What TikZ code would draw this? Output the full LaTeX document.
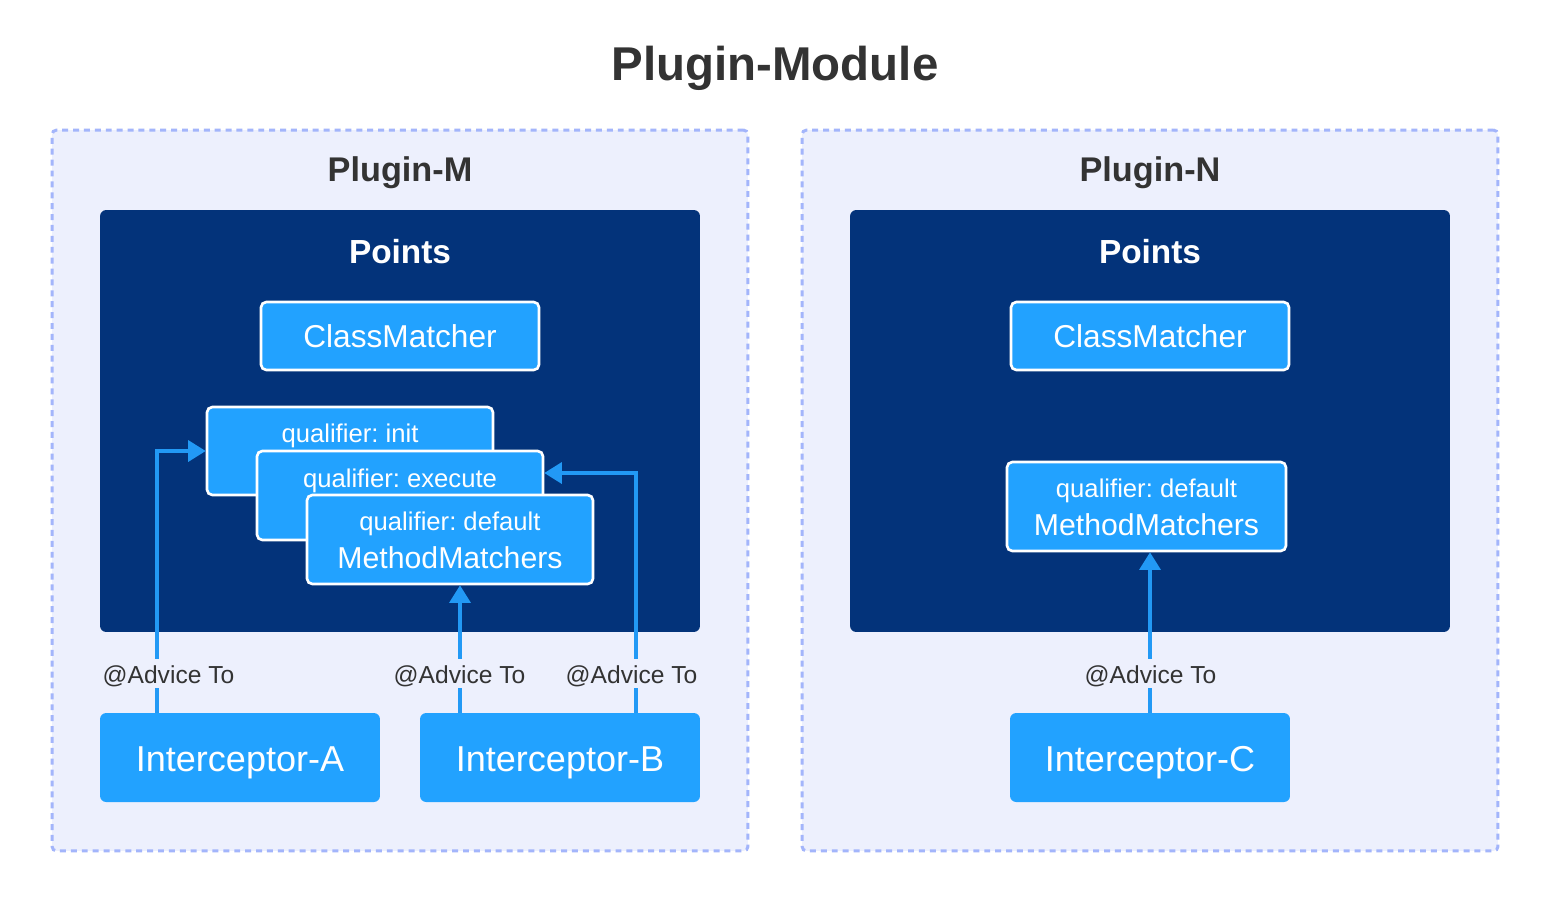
\documentclass[tikz,border=0pt]{standalone}
\usepackage{fontspec}
\setmainfont{Liberation Sans}
\frenchspacing
\usetikzlibrary{arrows.meta}
\definecolor{bgc}{HTML}{EDF0FD}
\definecolor{dashc}{HTML}{A3B5FB}
\definecolor{darkc}{HTML}{03337A}
\definecolor{bluec}{HTML}{22A2FF}
\definecolor{arrc}{HTML}{2299F5}
\definecolor{textc}{HTML}{333333}
\tikzset{
  outer/.style={draw=dashc, fill=bgc, line width=1.7pt, dash pattern=on 3.4pt off 2.8pt, rounded corners=2.5pt, inner sep=0pt},
  ptsbox/.style={fill=darkc, rounded corners=3.5pt, inner sep=0pt},
  mbox/.style={fill=bluec, draw=white, line width=1.5pt, rounded corners=3pt, inner sep=0pt},
  ibox/.style={fill=bluec, rounded corners=3.5pt, inner sep=0pt},
  txt/.style={inner sep=0pt, anchor=base},
  arr/.style={draw=arrc, line width=1.8pt, -{Triangle[length=10pt,width=12pt]}},
  lbl/.style={fill=bgc, text=textc, anchor=base, inner xsep=0pt, inner ysep=2.8pt, text height=11pt, text depth=0pt, font=\fontsize{14}{16}\selectfont},
  qtxt/.style={txt, text=white, font=\fontsize{14.6}{17}\selectfont},
  mtxt/.style={txt, text=white, font=\fontsize{17.2}{20}\selectfont},
  ctxt/.style={txt, text=white, font=\fontsize{18}{21}\selectfont},
  itxt/.style={txt, text=white, font=\fontsize{20.5}{24}\selectfont},
  htxt/.style={txt, text=textc, font=\fontsize{19.5}{23}\bfseries\selectfont}
}
\begin{document}
\begin{tikzpicture}[x=0.02cm,y=-0.02cm]
\useasboundingbox[fill=white] (0,0) rectangle (1550,903);
% title
\node[txt, text=textc, font=\fontsize{27}{31}\bfseries\selectfont] (title) at (775,80) {Plugin-Module};
% containers
\node[outer, minimum width=13.92cm, minimum height=14.42cm] (pm) at (400,490.5) {};
\node[outer, minimum width=13.92cm, minimum height=14.42cm] (pn) at (1150,490.5) {};
\node[htxt] (pmt) at (400,181) {Plugin-M};
\node[htxt] (pnt) at (1150,181) {Plugin-N};
% points boxes
\node[ptsbox, minimum width=12cm, minimum height=8.44cm] (ptm) at (400,421) {};
\node[ptsbox, minimum width=12cm, minimum height=8.44cm] (ptn) at (1150,421) {};
\node[txt, text=white, font=\fontsize{19}{23}\bfseries\selectfont] (ptmt) at (400,263.5) {Points};
\node[txt, text=white, font=\fontsize{19}{23}\bfseries\selectfont] (ptnt) at (1150,263.5) {Points};
% class matchers
\node[mbox, minimum width=5.56cm, minimum height=1.36cm] (cm) at (400,336) {};
\node[mbox, minimum width=5.56cm, minimum height=1.36cm] (cn) at (1150,336) {};
\node[ctxt] (cmt) at (400,347) {ClassMatcher};
\node[ctxt] (cnt) at (1150,347) {ClassMatcher};
% method matchers M
\node[mbox, minimum width=5.72cm, minimum height=1.76cm] (init) at (350,451) {};
\node[qtxt] (initt) at (350,442) {qualifier: init};
\node[mbox, minimum width=5.72cm, minimum height=1.78cm] (exe) at (400,495.5) {};
\node[qtxt] (exet) at (400,487) {qualifier: execute};
\node[mbox, minimum width=5.72cm, minimum height=1.78cm] (def) at (450,539.5) {};
\node[qtxt] (deft) at (450,530) {qualifier: default};
\node[mtxt] (defm) at (450,568) {MethodMatchers};
% method matchers N
\node[mbox, minimum width=5.58cm, minimum height=1.78cm] (defn) at (1146.5,506.5) {};
\node[qtxt] (defnt) at (1146.5,497) {qualifier: default};
\node[mtxt] (defnm) at (1146.5,535) {MethodMatchers};
% interceptors
\node[ibox, minimum width=5.6cm, minimum height=1.78cm] (ia) at (240,757.5) {};
\node[ibox, minimum width=5.6cm, minimum height=1.78cm] (ib) at (560,757.5) {};
\node[ibox, minimum width=5.6cm, minimum height=1.78cm] (ic) at (1150,757.5) {};
\node[itxt] (iat) at (240,771) {Interceptor-A};
\node[itxt] (ibt) at (560,771) {Interceptor-B};
\node[itxt] (ict) at (1150,771) {Interceptor-C};
% arrows
\coordinate (xa) at (157,0);
\coordinate (xm) at (460,0);
\coordinate (xb) at (636,0);
\draw[arr] (ia.north -| xa) |- (init.west);
\draw[arr] (ib.north -| xm) -- (def.south -| xm);
\draw[arr] (ib.north -| xb) |- ([yshift=0.45cm]exe.east);
\draw[arr] (ic.north) -- (defn.south -| ic.north);
% labels
\node[lbl] (la) at (168.5,683) {@Advice To};
\node[lbl] (lm) at (459.5,683) {@Advice To};
\node[lbl] (lb) at (631.5,683) {@Advice To};
\node[lbl] (lc) at (1150.5,683) {@Advice To};
\end{tikzpicture}
\end{document}
